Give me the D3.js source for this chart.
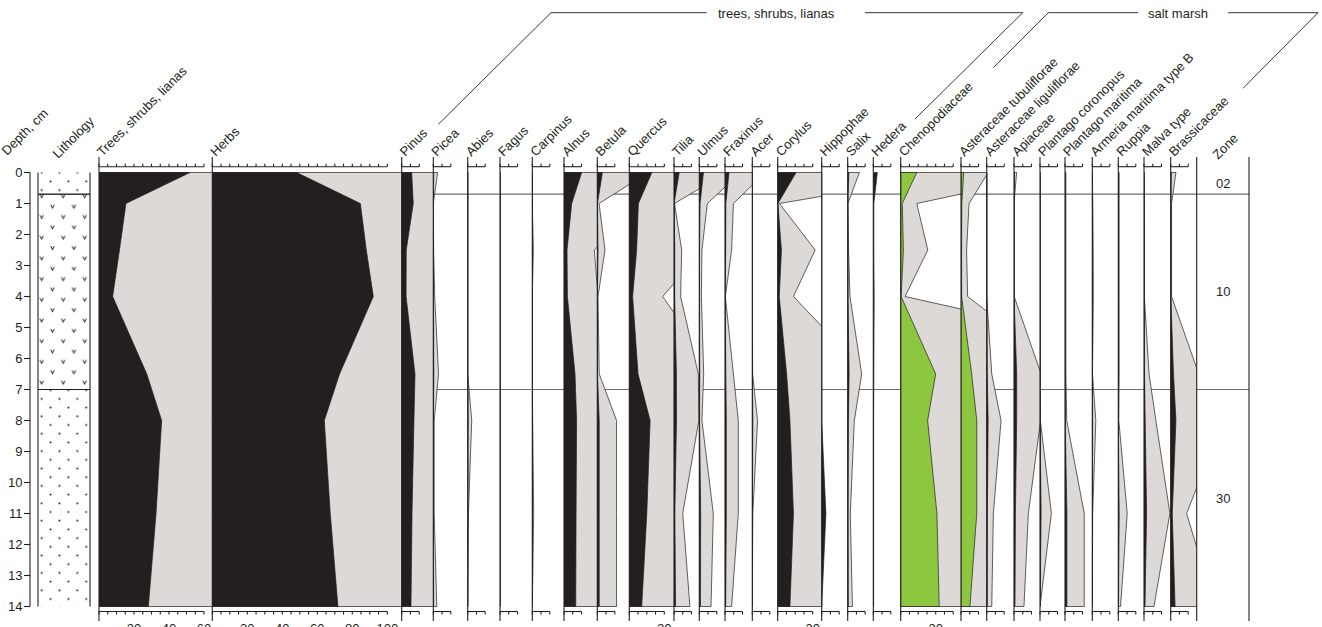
<!DOCTYPE html>
<html>
<head>
<meta charset="utf-8">
<title>Pollen diagram</title>
<script src="https://cdn.jsdelivr.net/npm/d3@7"></script>
<style>
  body { margin: 0; background: #fff; }
  text { font-family: "Liberation Sans", Arial, sans-serif; font-size: 13px; fill: #231f20; }
  .ax { stroke: #231f20; stroke-width: 1.1; fill: none; }
  .zone { stroke: #6d6e71; stroke-width: 1.2; }
</style>
</head>
<body>
<script>
// sample depths (cm) and percentages per taxon
var depths = [0, 1, 2.5, 4, 6.5, 8, 11, 14];

var treesShrubs = [52, 15.4, 11.7, 7.8, 27.3, 35.8, 32.6, 28.2];
var herbs       = [48.2, 84.6, 88, 92, 72.7, 64, 67.4, 71.8];
var pinus       = [5.7, 6.6, 2.6, 2.5, 7.6, 7, 5.9, 5.3];
var picea       = [0.25, 0, 0.02, 0.08, 0.3, 0.05, 0.05, 0.2];
var abies       = [0, 0, 0, 0, 0, 0.23, 0.04, 0];
var fagus       = [0, 0, 0, 0, 0, 0, 0, 0];
var carpinus    = [0, 0, 0.06, 0, 0, 0.02, 0.08, 0];
var alnus       = [10.1, 4.4, 1.73, 1.95, 6.3, 7.2, 6.9, 6.7];
var betula      = [2.9, 0.1, 0.44, 0.04, 0.11, 1.1, 1.1, 1.1];
var quercus     = [12.9, 5.2, 4.2, 1.91, 5.0, 11.9, 10.0, 7.1];
var tilia       = [3.0, 0.03, 0.44, 0.38, 1.39, 1.42, 0.5, 0.91];
var ulmus       = [2.37, 0.46, 0.15, 0.12, 0.25, 0.15, 0.8, 0.67];
var fraxinus    = [2.3, 0.48, 0.38, 0.02, 0.48, 0.76, 0.76, 0.38];
var acer        = [0, 0, 0, 0, 0.02, 0.3, 0.03, 0];
var corylus     = [10.5, 0.1, 2.14, 0.9, 5.1, 7.0, 9.0, 7.0];
var hippophae   = [0, 0, 0, 0, 0, 0, 2.4, 0];
var salix       = [0.67, 0.01, 0.05, 0.13, 0.8, 0.38, 0.15, 0.27];
var hedera      = [2.3, 0.3, 0.3, 0.5, 0.3, 0.2, 0.2, 0.2];
var chenopod    = [9.2, 0.92, 1.55, 0.25, 20, 15.4, 20.7, 22];
var asterTub    = [1.55, 0.46, 0.32, 0.38, 6.1, 9.0, 9.0, 5.1];
var asterLig    = [0, 0, 0, 0, 0.29, 0.82, 0.38, 0.29];
var apiaceae    = [0.15, 0, 0, 0.01, 1.55, 1.52, 0.82, 0.57];
var plantCor    = [0, 0, 0, 0, 0, 0.02, 0.65, 0];
var plantMar    = [0.05, 0.05, 0.05, 0.05, 0.05, 0.1, 1.1, 1.1];
var armeria     = [0, 0.03, 0.05, 0.06, 0.01, 0.2, 0.02, 0];
var ruppia      = [0.05, 0.05, 0.05, 0.05, 0.05, 0.03, 0.51, 0.13];
var malva       = [0, 0.01, 0.02, 0.02, 0.29, 0.68, 1.48, 0.57];
var brassic     = [0.3, 0.05, 0.05, 0.05, 1.6, 3.0, 0.91, 2.5];

var taxa = ["Trees, shrubs, lianas", "Herbs", "Pinus", "Picea", "Abies", "Fagus", "Carpinus",
  "Alnus", "Betula", "Quercus", "Tilia", "Ulmus", "Fraxinus", "Acer", "Corylus", "Hippophae",
  "Salix", "Hedera", "Chenopodiaceae", "Asteraceae tubuliflorae", "Asteraceae liguliflorae",
  "Apiaceae", "Plantago coronopus", "Plantago maritima", "Armeria maritima type B", "Ruppia",
  "Malva type", "Brassicaceae"];
var series = [treesShrubs, herbs, pinus, picea, abies, fagus, carpinus, alnus, betula, quercus,
  tilia, ulmus, fraxinus, acer, corylus, hippophae, salix, hedera, chenopod, asterTub, asterLig,
  apiaceae, plantCor, plantMar, armeria, ruppia, malva, brassic];
var scaleMax = [60, 100, 10, 10, 10, 10, 10, 10, 10, 20, 10, 10, 10, 10, 20, 10, 10, 10, 30,
  10, 10, 10, 10, 10, 10, 10, 10, 10];
var greenTaxa = ["Chenopodiaceae", "Asteraceae tubuliflorae"];
var noExag = ["Hippophae", "Hedera"];
var exag = 10;

var zoneBounds = [0.7, 7];
var zoneNames = ["02", "10", "30"];
var lithology = [
  {top: 0, bottom: 0.7, type: "sand"},
  {top: 0.7, bottom: 7, type: "peat"},
  {top: 7, bottom: 14, type: "sand"}
];

// layout
var colLeft = [99, 212.3, 401.7, 433.3, 467.7, 500, 532.3, 564, 597.3, 629.3, 674, 699.3, 725,
  752.3, 777.7, 821.7, 847.7, 873.3, 900.7, 961, 986.7, 1014, 1040, 1065, 1092.3, 1118.3, 1144, 1170.7];
var zoneLeft = 1196.7, zoneRight = 1249;
var pxPerPct = 1.75;
var dark = "#231f20", grey = "#ddd9d6", green = "#8dc63f";

var svg = d3.select("body").append("svg").attr("width", 1322).attr("height", 627)
  .style("background", "#fff");
var defs = svg.append("defs");

var y = d3.scaleLinear().domain([0, 14]).range([172.5, 606.5]);

// lithology patterns
var sw = 17.8, sh = 17.4;
var sand = defs.append("pattern").attr("id", "sand").attr("patternUnits", "userSpaceOnUse")
  .attr("x", 41.7 - sw / 4).attr("y", 172.7 - sh / 4).attr("width", sw).attr("height", sh);
sand.selectAll("circle").data([[sw / 4, sh / 4], [3 * sw / 4, 3 * sh / 4]]).enter().append("circle")
  .attr("cx", function(d) { return d[0]; }).attr("cy", function(d) { return d[1]; })
  .attr("r", 1).attr("fill", dark);
var pw = 21.5, ph = 20.7;
var peat = defs.append("pattern").attr("id", "peat").attr("patternUnits", "userSpaceOnUse")
  .attr("x", 41.7 - pw / 4).attr("y", 196 - ph / 4).attr("width", pw).attr("height", ph);
peat.selectAll("path").data([[pw / 4, ph / 4], [3 * pw / 4, 3 * ph / 4]]).enter().append("path")
  .attr("d", function(d) { return "M" + (d[0] - 1.8) + "," + (d[1] - 1.6) + "L" + d[0] + "," + (d[1] + 1.7) + "L" + (d[0] + 1.8) + "," + (d[1] - 1.6); })
  .attr("fill", "none").attr("stroke", dark).attr("stroke-width", 1);

// zone lines (behind everything)
var zl = svg.append("g");
zoneBounds.forEach(function(z) {
  zl.append("line").attr("class", "zone").attr("x1", 38).attr("x2", 90).attr("y1", y(z)).attr("y2", y(z));
  zl.append("line").attr("class", "zone").attr("x1", 99).attr("x2", zoneRight).attr("y1", y(z)).attr("y2", y(z));
});

// depth axis
var dAx = svg.append("g");
dAx.append("line").attr("class", "ax").attr("x1", 30).attr("x2", 30).attr("y1", y(0)).attr("y2", y(14));
d3.range(0, 15).forEach(function(d) {
  dAx.append("line").attr("class", "ax").attr("x1", 24).attr("x2", 30).attr("y1", y(d)).attr("y2", y(d));
  dAx.append("text").attr("x", 22.5).attr("y", y(d)).attr("dy", "0.35em").attr("text-anchor", "end").text(d);
});

// lithology column
var lith = svg.append("g");
lith.selectAll("rect").data(lithology).enter().append("rect")
  .attr("x", 38).attr("width", 52)
  .attr("y", function(d) { return y(d.top); })
  .attr("height", function(d) { return y(d.bottom) - y(d.top); })
  .attr("fill", function(d) { return "url(#" + d.type + ")"; });
lith.append("line").attr("class", "ax").attr("x1", 38).attr("x2", 38).attr("y1", y(0)).attr("y2", y(14));
lith.append("line").attr("class", "ax").attr("x1", 90).attr("x2", 90).attr("y1", y(0)).attr("y2", y(14));
zoneBounds.forEach(function(z) {
  lith.append("line").attr("class", "ax").attr("x1", 38).attr("x2", 90).attr("y1", y(z)).attr("y2", y(z));
});

// taxon columns
var cols = svg.append("g");
taxa.forEach(function(name, i) {
  var left = colLeft[i];
  var right = i + 1 < colLeft.length ? colLeft[i + 1] : zoneLeft;
  var x = d3.scaleLinear().domain([0, 100]).range([left, left + 100 * pxPerPct]);
  var pts = depths.map(function(d, j) { return {d: d, v: series[i][j]}; });
  var g = cols.append("g");

  var clipId = "clip" + i;
  defs.append("clipPath").attr("id", clipId).append("rect")
    .attr("x", left).attr("y", y(0) - 1).attr("width", right - left).attr("height", y(14) - y(0) + 2);

  if (noExag.indexOf(name) < 0) {
    var exArea = d3.area().y(function(p) { return y(p.d); }).x0(left)
      .x1(function(p) { return x(p.v * exag); });
    g.append("path").attr("d", exArea(pts)).attr("fill", grey)
      .attr("stroke", dark).attr("stroke-width", 0.7).attr("clip-path", "url(#" + clipId + ")");
  }
  var area = d3.area().y(function(p) { return y(p.d); }).x0(left).x1(function(p) { return x(p.v); });
  g.append("path").attr("d", area(pts))
    .attr("fill", greenTaxa.indexOf(name) >= 0 ? green : dark)
    .attr("stroke", dark).attr("stroke-width", 0.7).attr("clip-path", "url(#" + clipId + ")");

  // column axis line
  g.append("line").attr("class", "ax").attr("x1", left).attr("x2", left).attr("y1", 157).attr("y2", 621);

  // top and bottom scale bars
  var ticks = d3.range(0, scaleMax[i] + 0.01, 5);
  [[166.7, -3], [611.5, 3]].forEach(function(s) {
    g.append("line").attr("class", "ax").attr("stroke-width", 0.9)
      .attr("x1", left).attr("x2", x(scaleMax[i])).attr("y1", s[0]).attr("y2", s[0]);
    g.selectAll(null).data(ticks).enter().append("line").attr("class", "ax").attr("stroke-width", 0.9)
      .attr("x1", function(t) { return x(t); }).attr("x2", function(t) { return x(t); })
      .attr("y1", s[0]).attr("y2", s[0] + s[1]);
  });
  g.selectAll(null).data(d3.range(20, scaleMax[i] + 0.01, 20)).enter().append("text")
    .attr("x", function(t) { return x(t); }).attr("y", 633).attr("text-anchor", "middle")
    .text(function(t) { return t; });

  g.append("text").attr("transform", "translate(" + (left + 3.5) + ",157) rotate(-45)").text(name);
});

// zone column
var zc = svg.append("g");
[zoneLeft, zoneRight].forEach(function(xx) {
  zc.append("line").attr("class", "ax").attr("x1", xx).attr("x2", xx).attr("y1", 157).attr("y2", 621);
});
var zEdges = [0].concat(zoneBounds, [14]);
zoneNames.forEach(function(n, k) {
  zc.append("text").attr("x", (zoneLeft + zoneRight) / 2 + 0.5)
    .attr("y", y((zEdges[k] + zEdges[k + 1]) / 2)).attr("dy", "0.35em")
    .attr("text-anchor", "middle").text(n);
});

// header labels
svg.append("text").attr("transform", "translate(7,156) rotate(-45)").text("Depth, cm");
svg.append("text").attr("transform", "translate(58,159) rotate(-45)").text("Lithology");
svg.append("text").attr("transform", "translate(1218,160) rotate(-45)").text("Zone");

// group brackets
var hdr = svg.append("g");
var brackets = [
  "M438.3,124.3L551,12.7L706.7,12.7",
  "M865,12.7L1022.7,12.7L915,119",
  "M993.3,67.7L1048.3,12.7L1138.3,12.7",
  "M1228,12.7L1318,12.7L1243,88.3"
];
hdr.selectAll("path").data(brackets).enter().append("path")
  .attr("d", function(d) { return d; }).attr("fill", "none").attr("stroke", dark).attr("stroke-width", 0.9);
hdr.append("text").attr("x", 718).attr("y", 17.5).text("trees, shrubs, lianas");
hdr.append("text").attr("x", 1148).attr("y", 17.5).text("salt marsh");
</script>
</body>
</html>
